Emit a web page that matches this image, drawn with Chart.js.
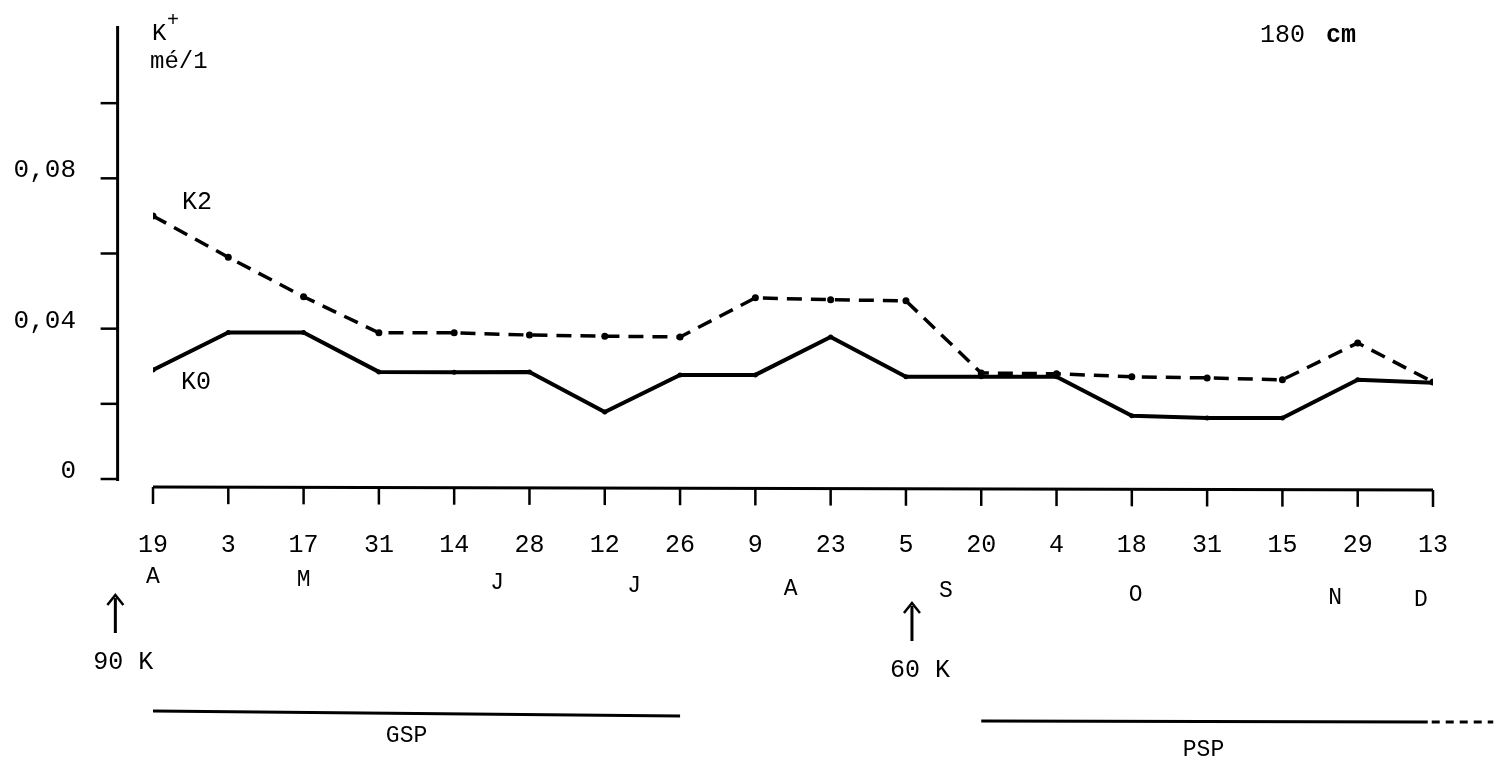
<!DOCTYPE html>
<html>
<head>
<meta charset="utf-8">
<script src="https://cdn.jsdelivr.net/npm/chart.js@4/dist/chart.umd.min.js"></script>
<style>
  html, body { margin: 0; padding: 0; background: #fff; }
  #wrap { width: 1498px; height: 761px; position: relative; }
</style>
</head>
<body>
<div id="wrap"><canvas id="c" width="1498" height="761"></canvas></div>
<script>
// ---- data ----
const days = ['19','3','17','31','14','28','12','26','9','23','5','20','4','18','31','15','29','13'];
const k0 = [0.029,0.039,0.039,0.0285,0.0284,0.0285,0.0178,0.0277,0.0277,0.0378,0.0272,0.0272,0.0272,0.0168,0.0162,0.0162,0.0264,0.0256];
const k2 = [0.070,0.059,0.0485,0.0389,0.0389,0.0383,0.0380,0.0378,0.0482,0.0477,0.0474,0.0282,0.0280,0.0272,0.0269,0.0264,0.0362,0.0258];
const months = ['A','M','J','J','A','S','O','N','D'];
const monthPos = [0, 2, 4.57, 6.39, 8.47, 10.53, 13.05, 15.7, 16.84];
const yTicks = [0, 0.02, 0.04, 0.06, 0.08, 0.10];
const yLabelled = [0, 0.04, 0.08];
const yTitle = ['K', '+', 'mé/1'];
const depthLabel = ['180', 'cm'];
const seriesNames = ['K0', 'K2'];
const applications = [{ at: -0.5, text: '90 K', dy: 0 }, { at: 10.08, text: '60 K', dy: 8 }];
const phases = [{ name: 'GSP', from: 0, to: 7, dashTo: null }, { name: 'PSP', from: 11, to: 16.93, dashTo: 17.8 }];

const MONO = '"Liberation Mono", "DejaVu Sans Mono", monospace';

const deco = {
  id: 'deco',
  beforeDatasetsDraw(chart) {
    const { ctx, scales: { x, y } } = chart;
    ctx.save();
    ctx.strokeStyle = '#000';
    // vertical axis
    const ax = x.getPixelForValue(-0.47);
    ctx.lineWidth = 3;
    ctx.beginPath();
    ctx.moveTo(ax, y.getPixelForValue(0.1205));
    ctx.lineTo(ax, y.getPixelForValue(0) + 2);
    ctx.stroke();
    ctx.lineWidth = 2.5;
    for (const v of yTicks) {
      const py = y.getPixelForValue(v);
      ctx.beginPath(); ctx.moveTo(ax - 17, py); ctx.lineTo(ax, py); ctx.stroke();
    }
    // horizontal axis
    const base = y.getPixelForValue(0);
    const yl = base + 8, yr = base + 11;
    const xl = x.getPixelForValue(0), xr = x.getPixelForValue(17);
    ctx.lineWidth = 3;
    ctx.beginPath(); ctx.moveTo(xl, yl); ctx.lineTo(xr, yr); ctx.stroke();
    ctx.lineWidth = 2.5;
    for (let i = 0; i < days.length; i++) {
      const px = x.getPixelForValue(i);
      const py = yl + (yr - yl) * i / 17;
      ctx.beginPath(); ctx.moveTo(px, py); ctx.lineTo(px, py + 17); ctx.stroke();
    }
    ctx.restore();
  },
  afterDraw(chart) {
    const { ctx, scales: { x, y } } = chart;
    ctx.save();
    ctx.fillStyle = '#000';
    ctx.strokeStyle = '#000';
    ctx.textBaseline = 'middle';
    // y title
    ctx.textAlign = 'left';
    ctx.font = '24px ' + MONO;
    ctx.fillText(yTitle[0], 152, 34);
    ctx.font = '20px ' + MONO;
    ctx.fillText(yTitle[1], 167, 21);
    ctx.font = '24px ' + MONO;
    ctx.fillText(yTitle[2], 150, 62);
    // depth label
    ctx.font = '25px ' + MONO;
    ctx.fillText(depthLabel[0], 1260, 35);
    ctx.font = 'bold 25px ' + MONO;
    ctx.fillText(depthLabel[1], 1326, 36);
    // series labels
    ctx.font = '25px ' + MONO;
    ctx.fillText(seriesNames[0], 181, y.getPixelForValue(k0[0]) + 12);
    ctx.fillText(seriesNames[1], 182, y.getPixelForValue(k2[0]) - 14);
    // months
    ctx.textAlign = 'center';
    ctx.font = '23px ' + MONO;
    months.forEach((m, i) => {
      const px = x.getPixelForValue(monthPos[i]);
      ctx.fillText(m, px, 577 + 0.018 * (px - 151));
    });
    // application arrows
    applications.forEach(a => {
      const px = x.getPixelForValue(a.at);
      const top = 595 + a.dy, bot = 633 + a.dy;
      ctx.lineWidth = 3;
      ctx.beginPath(); ctx.moveTo(px, bot); ctx.lineTo(px, top + 3); ctx.stroke();
      ctx.lineWidth = 2.5;
      ctx.beginPath(); ctx.moveTo(px - 8, top + 10); ctx.lineTo(px, top); ctx.lineTo(px + 8, top + 10); ctx.stroke();
      ctx.font = '25px ' + MONO;
      ctx.fillText(a.text, px + 8, bot + 29);
    });
    // phases
    phases.forEach((p, k) => {
      const x1 = x.getPixelForValue(p.from), x2 = x.getPixelForValue(p.to);
      const ly = k === 0 ? 714 : 721;
      ctx.lineWidth = 3;
      ctx.beginPath(); ctx.moveTo(x1, ly - (k === 0 ? 3 : 0)); ctx.lineTo(x2, ly + (k === 0 ? 2 : 1)); ctx.stroke();
      if (p.dashTo !== null) {
        const x3 = x.getPixelForValue(p.dashTo);
        ctx.setLineDash([8, 6]);
        ctx.beginPath(); ctx.moveTo(x2 + 4, ly + 1); ctx.lineTo(x3, ly + 1); ctx.stroke();
        ctx.setLineDash([]);
      }
      ctx.font = '23px ' + MONO;
      ctx.fillText(p.name, (x1 + x2) / 2 - (k === 0 ? 10 : 1), k === 0 ? 736 : 750);
    });
    ctx.restore();
  }
};

new Chart(document.getElementById('c'), {
  type: 'line',
  data: {
    datasets: [
      {
        label: seriesNames[0],
        data: k0.map((v, i) => ({ x: i, y: v })),
        borderColor: '#000', backgroundColor: '#000',
        borderWidth: 4, pointRadius: 2.5, pointBackgroundColor: '#000', pointBorderWidth: 0,
        tension: 0, fill: false
      },
      {
        label: seriesNames[1],
        data: k2.map((v, i) => ({ x: i, y: v })),
        borderColor: '#000', backgroundColor: '#000',
        borderWidth: 3.5, borderDash: [15, 9], pointRadius: 3.5, pointBackgroundColor: '#000', pointBorderWidth: 0,
        tension: 0, fill: false
      }
    ]
  },
  options: {
    responsive: false,
    animation: false,
    events: [],
    layout: { padding: { left: 0, right: 65, top: 28, bottom: 0 } },
    plugins: { legend: { display: false }, tooltip: { enabled: false } },
    scales: {
      x: {
        type: 'linear', min: 0, max: 17,
        grid: { display: false, drawTicks: false },
        border: { display: false },
        afterFit(s) { s.height = 282; s.paddingLeft = 0; s.paddingRight = 0; },
        ticks: {
          stepSize: 1, autoSkip: false, maxRotation: 0, padding: 51,
          color: '#000', font: { family: MONO, size: 25 },
          callback: v => days[v] ?? ''
        }
      },
      y: {
        min: 0, max: 0.12,
        grid: { display: false, drawTicks: false },
        border: { display: false },
        afterFit(s) { s.width = 153; s.paddingTop = 0; s.paddingBottom = 0; },
        ticks: {
          stepSize: 0.02, padding: 77, labelOffset: -8,
          color: '#000', font: { family: MONO, size: 26 },
          callback: v => {
            const r = Math.round(v * 100) / 100;
            if (!yLabelled.some(t => Math.abs(t - r) < 1e-9)) return '';
            return r === 0 ? '0' : r.toFixed(2).replace('.', ',');
          }
        }
      }
    }
  },
  plugins: [deco]
});
</script>
</body>
</html>
